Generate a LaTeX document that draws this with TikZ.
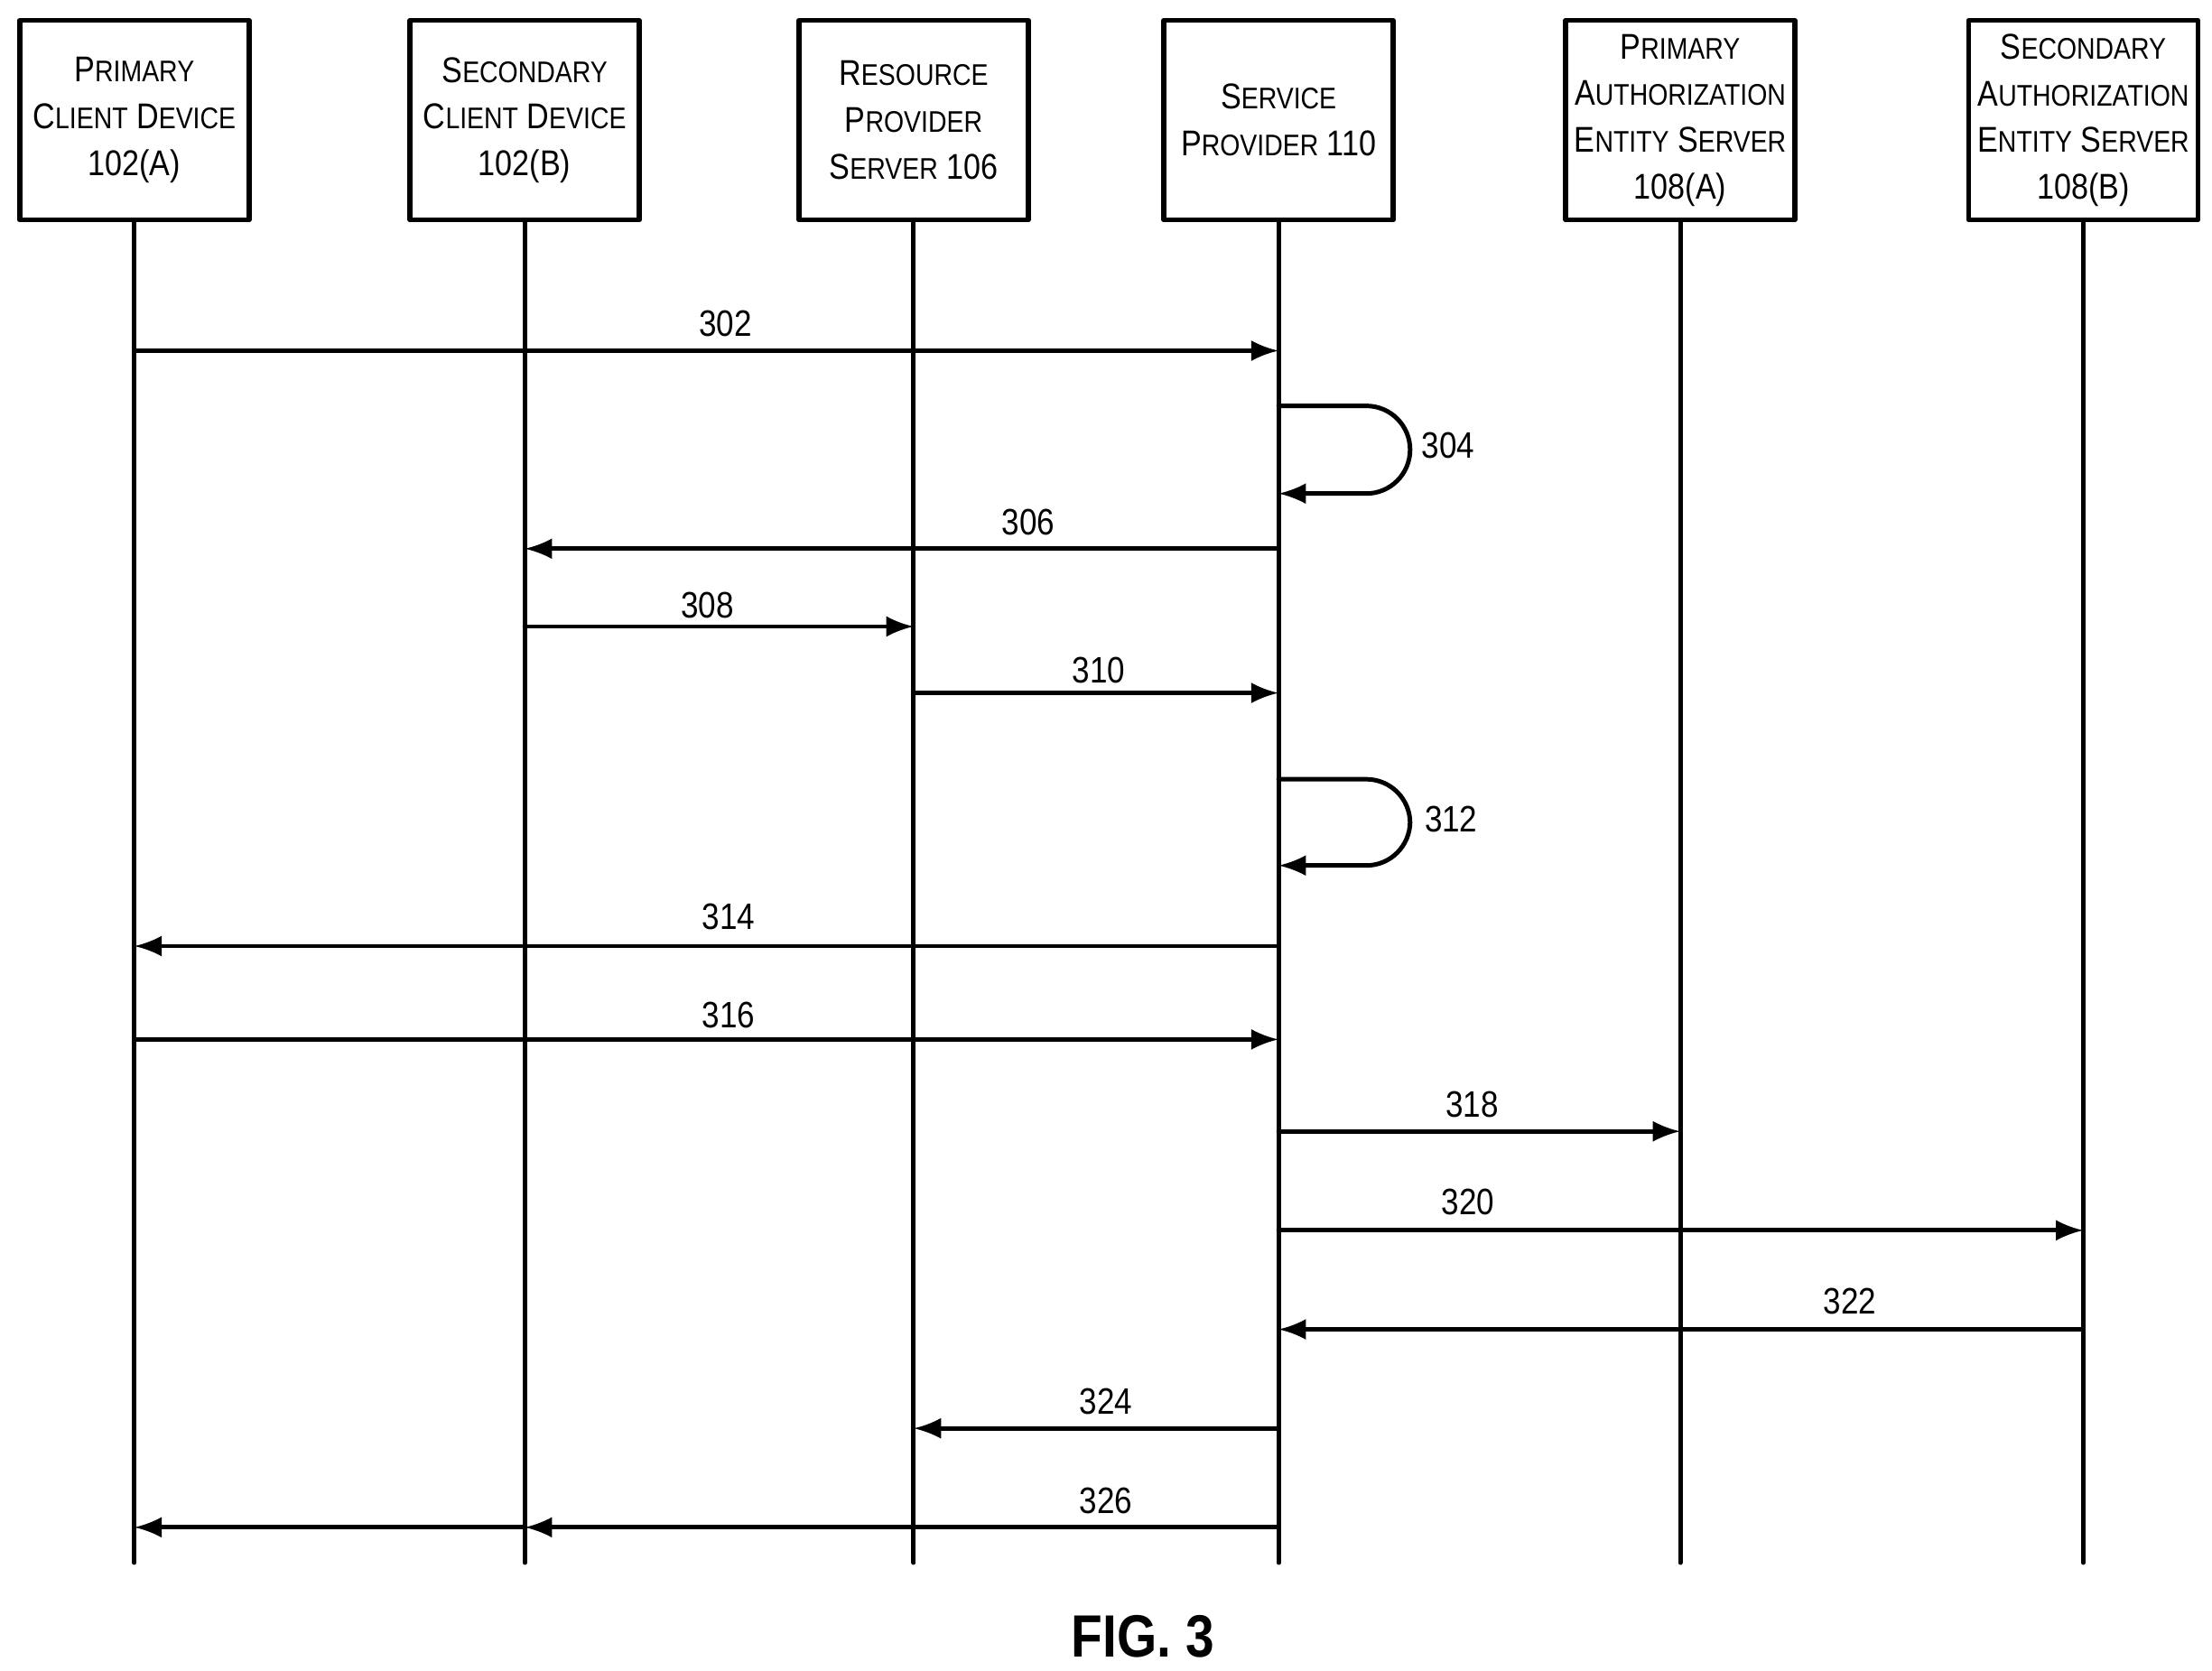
\documentclass[tikz,border=0pt]{standalone}
\usepackage{fontspec}
\setmainfont{Liberation Sans}[FakeStretch=0.86]
\usetikzlibrary{arrows}
\newcommand{\sm}[2]{#1{\fontsize{6pt}{7pt}\selectfont #2}}
\begin{document}
\begin{tikzpicture}[line cap=round,line join=round,>=latex,x=0.01cm,y=-0.01cm,
  actor/.style={draw,line width=1pt,minimum width=1.62cm,minimum height=1.41cm,inner sep=1pt,align=center,font=\fontsize{7.2pt}{9.4pt}\selectfont},
  life/.style={line width=0.9pt},
  msg/.style={line width=0.9pt,->},
  lbl/.style={font=\fontsize{7.4pt}{9pt}\selectfont}]
\useasboundingbox (0,0) rectangle (1564,1181);
% participants
\node[actor] (pa) at (95,85) {\sm{P}{RIMARY}\\\sm{C}{LIENT} \sm{D}{EVICE}\\102(A)};
\node[actor] (sa) at (371,85) {\sm{S}{ECONDARY}\\\sm{C}{LIENT} \sm{D}{EVICE}\\102(B)};
\node[actor] (rp) at (646,85) {\sm{R}{ESOURCE}\\\sm{P}{ROVIDER}\\\sm{S}{ERVER} 106};
\node[actor] (sp) at (904,85) {\sm{S}{ERVICE}\\\sm{P}{ROVIDER} 110};
\node[actor] (pe) at (1188,85) {\sm{P}{RIMARY}\\\sm{A}{UTHORIZATION}\\\sm{E}{NTITY} \sm{S}{ERVER}\\108(A)};
\node[actor] (se) at (1473,85) {\sm{S}{ECONDARY}\\\sm{A}{UTHORIZATION}\\\sm{E}{NTITY} \sm{S}{ERVER}\\108(B)};
% lifelines
\foreach \n in {pa,sa,rp,sp,pe,se}{
  \coordinate (\n-end) at (\n |- 0,1105);
  \draw[life] (\n.south) -- (\n-end);
}
% messages
\draw[msg] (pa |- 0,248) -- (sp |- 0,248);
\node[lbl] (m302) at (513,229) {302};
\draw[msg,rounded corners=0.31cm] (sp |- 0,287) -- (997,287) -- (997,349) -- (sp |- 0,349);
\node[lbl] (m304) at (1024,315) {304};
\draw[msg] (sp |- 0,388) -- (sa |- 0,388);
\node[lbl] (m306) at (727,369) {306};
\draw[msg] (sa |- 0,443) -- (rp |- 0,443);
\node[lbl] (m308) at (500,428) {308};
\draw[msg] (rp |- 0,490) -- (sp |- 0,490);
\node[lbl] (m310) at (777,474) {310};
\draw[msg,rounded corners=0.31cm] (sp |- 0,551) -- (997,551) -- (997,612) -- (sp |- 0,612);
\node[lbl] (m312) at (1026,579) {312};
\draw[msg] (sp |- 0,669) -- (pa |- 0,669);
\node[lbl] (m314) at (515,648) {314};
\draw[msg] (pa |- 0,735) -- (sp |- 0,735);
\node[lbl] (m316) at (515,718) {316};
\draw[msg] (sp |- 0,800) -- (pe |- 0,800);
\node[lbl] (m318) at (1041,781) {318};
\draw[msg] (sp |- 0,870) -- (se |- 0,870);
\node[lbl] (m320) at (1038,850) {320};
\draw[msg] (se |- 0,940) -- (sp |- 0,940);
\node[lbl] (m322) at (1308,920) {322};
\draw[msg] (sp |- 0,1010) -- (rp |- 0,1010);
\node[lbl] (m324) at (782,991) {324};
\draw[msg] (sp |- 0,1080) -- (sa |- 0,1080);
\draw[msg] (sa |- 0,1080) -- (pa |- 0,1080);
\node[lbl] (m326) at (782,1061) {326};
\node[font=\bfseries\fontsize{12pt}{14pt}\selectfont] (fig) at (808,1157) {FIG. 3};
\end{tikzpicture}
\end{document}
